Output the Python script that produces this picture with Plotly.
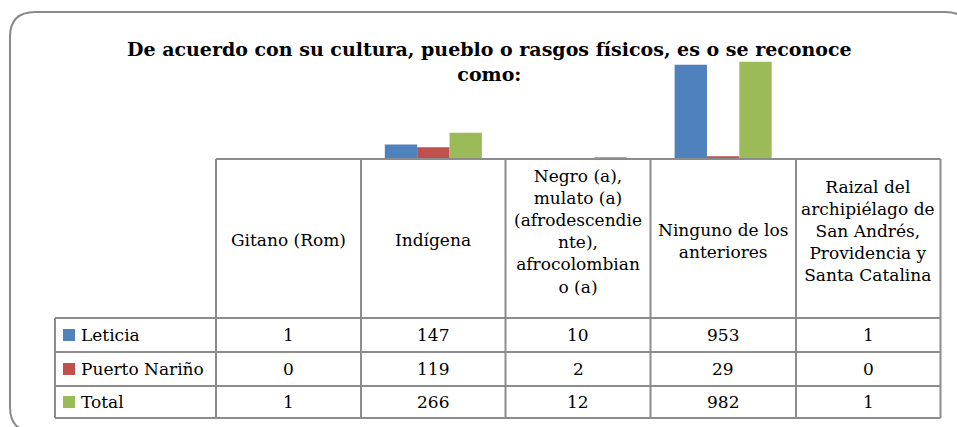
import plotly.graph_objects as go

# ---- data ----
categories = ["Gitano (Rom)", "Indígena",
              "Negro (a), mulato (a) (afrodescendiente), afrocolombiano (a)",
              "Ninguno de los anteriores",
              "Raizal del archipiélago de San Andrés, Providencia y Santa Catalina"]
header_lines = [
    ["Gitano (Rom)"],
    ["Indígena"],
    ["Negro (a),", "mulato (a)", "(afrodescendie", "nte),", "afrocolombian", "o (a)"],
    ["Ninguno de los", "anteriores"],
    ["Raizal del", "archipiélago de", "San Andrés,", "Providencia y", "Santa Catalina"],
]
series_names = ["Leticia", "Puerto Nariño", "Total"]
leticia = [1, 147, 10, 953, 1]
puerto_narino = [0, 119, 2, 29, 0]
total = [1, 266, 12, 982, 1]
series_values = [leticia, puerto_narino, total]
colors = ["#4F81BD", "#C0504D", "#9BBB59"]
title_lines = ["De acuerdo con su cultura, pueblo o rasgos físicos, es o se reconoce", "como:"]

W, H = 957, 427
def px(x):
    return x / W
def py(y):
    return 1 - y / H

FONT = "DejaVu Serif"
TS = 17
LINE = "#8c8c8c"

# table geometry (pixels)
col_edges = [216, 361, 505.5, 650.5, 796, 940.5]
legend_left = 55
header_top, header_bot = 159, 318
header_centers = [240, 240, 231, 241, 231]
row_edges = [318, 352, 386, 418]

fig = go.Figure()
for name, vals, c in zip(series_names, series_values, colors):
    fig.add_trace(go.Bar(x=categories, y=vals, name=name, marker_color=c,
                         marker_line_width=0, showlegend=False, hoverinfo="x+y+name"))

shapes = []
def P(x, y):
    return f"{px(x):.5f},{py(y):.5f}"
frame = (f"M {P(10,407)} L {P(10,37)} Q {P(10,12)} {P(35,12)} L {P(945,12)} "
         f"Q {P(970,12)} {P(970,37)} L {P(970,407)} Q {P(970,432)} {P(945,432)} "
         f"L {P(35,432)} Q {P(10,432)} {P(10,407)} Z")
shapes.append(dict(type="path", xref="paper", yref="paper", path=frame,
                   line=dict(color="#8a8a8a", width=2)))

def hline(x0, x1, y):
    shapes.append(dict(type="line", xref="paper", yref="paper",
                       x0=px(x0), x1=px(x1), y0=py(y), y1=py(y),
                       line=dict(color=LINE, width=2)))
def vline(x, y0, y1):
    shapes.append(dict(type="line", xref="paper", yref="paper",
                       x0=px(x), x1=px(x), y0=py(y0), y1=py(y1),
                       line=dict(color=LINE, width=2)))

hline(col_edges[0], col_edges[-1], header_top)
for y in row_edges:
    hline(legend_left, col_edges[-1], y)
for x in col_edges:
    vline(x, header_top, row_edges[-1])
vline(legend_left, row_edges[0], row_edges[-1])

annotations = []
# title
annotations.append(dict(text="<b>" + "<br>".join(title_lines) + "</b>",
                        x=px(490), y=py(62), xref="paper", yref="paper",
                        showarrow=False, xanchor="center", yanchor="middle",
                        font=dict(family=FONT, size=19, color="black")))
# headers
for cat, lines, hcy in zip(categories, header_lines, header_centers):
    annotations.append(dict(text="<br>".join(lines), x=cat, y=py(hcy), xref="x", yref="paper",
                            showarrow=False, xanchor="center", yanchor="middle",
                            font=dict(family=FONT, size=TS, color="black")))
# rows
for r, (name, vals, c) in enumerate(zip(series_names, series_values, colors)):
    yc = (row_edges[r] + row_edges[r + 1]) / 2
    shapes.append(dict(type="rect", xref="paper", yref="paper",
                       x0=px(63), x1=px(75), y0=py(yc - 6), y1=py(yc + 6),
                       fillcolor=c, line=dict(width=0)))
    annotations.append(dict(text=name, x=px(79), y=py(yc), xref="paper", yref="paper",
                            showarrow=False, xanchor="left", yanchor="middle",
                            font=dict(family=FONT, size=TS, color="black")))
    for cat, v in zip(categories, vals):
        annotations.append(dict(text=str(v), x=cat, y=py(yc), xref="x", yref="paper",
                                showarrow=False, xanchor="center", yanchor="middle",
                                font=dict(family=FONT, size=TS, color="black")))

fig.update_layout(
    width=W, height=H,
    margin=dict(l=0, r=0, t=0, b=0),
    paper_bgcolor="white", plot_bgcolor="rgba(0,0,0,0)",
    barmode="group", bargap=0.33, bargroupgap=0,
    xaxis=dict(domain=[px(col_edges[0]), px(col_edges[-1])], range=[-0.5, 4.5],
               visible=False, fixedrange=True),
    yaxis=dict(domain=[py(header_top), py(60)], range=[0, 1000],
               visible=False, fixedrange=True),
    shapes=shapes, annotations=annotations,
    font=dict(family=FONT),
)

fig.write_html("out.html", config={"displayModeBar": False},
               post_script="document.body.style.margin='0';document.body.style.overflow='hidden';")
